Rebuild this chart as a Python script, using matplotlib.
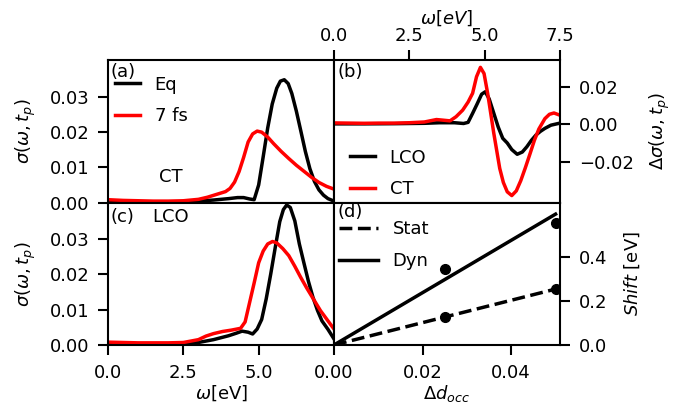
import matplotlib
matplotlib.use("Agg")
import matplotlib.pyplot as plt

plt.rcParams["font.size"] = 13

# panel (a): CT, equilibrium vs 7 fs
a_eq_x = [0, 1, 2, 2.5, 3, 3.5, 4.0, 4.3, 4.5, 4.7, 4.85, 5.0, 5.15, 5.3, 5.45, 5.6, 5.72, 5.85,
          5.98, 6.1, 6.25, 6.4, 6.55, 6.7, 6.85, 7.0, 7.15, 7.3, 7.5]
a_eq_y = [0.0001, 0.0001, 0.0001, 0.0002, 0.0004, 0.0007, 0.0011, 0.0014, 0.0014, 0.0010, 0.0008,
          0.0050, 0.0130, 0.0212, 0.0280, 0.0325, 0.0345, 0.0349, 0.0338, 0.0310, 0.0260, 0.0203,
          0.0145, 0.0096, 0.0060, 0.0036, 0.0021, 0.0011, 0.0004]
a_7fs_x = [0, 0.5, 1, 1.5, 2, 2.5, 3.0, 3.3, 3.6, 3.9, 4.05, 4.2, 4.35, 4.5, 4.65, 4.8, 4.95, 5.1,
           5.3, 5.5, 5.75, 6.0, 6.25, 6.5, 6.75, 7.0, 7.25, 7.5]
a_7fs_y = [0.0008, 0.0006, 0.0005, 0.0004, 0.0004, 0.0005, 0.0009, 0.0015, 0.0023, 0.0031, 0.0040,
           0.0058, 0.0088, 0.0128, 0.0172, 0.0195, 0.0203, 0.0200, 0.0186, 0.0167, 0.0145, 0.0125,
           0.0106, 0.0089, 0.0072, 0.0057, 0.0046, 0.0038]

# panel (b): difference spectra
b_lco_x = [0, 1, 2, 3, 3.5, 4.0, 4.3, 4.45, 4.6, 4.75, 4.9, 5.02, 5.15, 5.3, 5.45, 5.6, 5.75, 5.9,
           6.08, 6.25, 6.4, 6.55, 6.7, 6.85, 7.0, 7.2, 7.5]
b_lco_y = [0.0002, 0.0002, 0.0003, 0.0005, 0.0008, 0.0008, 0.0004, 0.0010, 0.0058, 0.0108, 0.0160,
           0.0173, 0.0135, 0.0060, -0.0015, -0.0075, -0.0100, -0.0135, -0.0160, -0.0148, -0.0120,
           -0.0086, -0.0058, -0.0038, -0.0022, -0.0005, 0.0006]
b_ct_x = [0, 0.5, 1, 1.5, 2, 2.5, 3.0, 3.4, 3.6, 3.85, 4.05, 4.27, 4.45, 4.6, 4.73, 4.86, 4.98,
          5.1, 5.2, 5.3, 5.4, 5.5, 5.62, 5.75, 5.9, 6.05, 6.2, 6.35, 6.5, 6.65, 6.8, 7.0, 7.15,
          7.3, 7.5]
b_ct_y = [0.0007, 0.0006, 0.0005, 0.0006, 0.0006, 0.0008, 0.0012, 0.0025, 0.0022, 0.0018, 0.0040,
          0.0075, 0.0118, 0.0165, 0.0253, 0.0303, 0.0270, 0.0164, 0.0060, -0.0045, -0.0140,
          -0.0235, -0.0310, -0.0360, -0.0380, -0.0355, -0.0300, -0.0232, -0.0160, -0.0086,
          -0.0025, 0.0030, 0.0053, 0.0060, 0.0048]

# panel (c): LCO, equilibrium vs 7 fs
c_eq_x = [0, 1, 2, 2.5, 3.0, 3.5, 4.0, 4.25, 4.45, 4.65, 4.8, 4.95, 5.1, 5.25, 5.4, 5.55, 5.7,
          5.82, 5.93, 6.05, 6.2, 6.35, 6.5, 6.65, 6.8, 6.95, 7.1, 7.3, 7.5]
c_eq_y = [0.0001, 0.0001, 0.0001, 0.0002, 0.0007, 0.0015, 0.0026, 0.0033, 0.0039, 0.0036, 0.0031,
          0.0045, 0.0072, 0.0130, 0.0200, 0.0275, 0.0348, 0.0382, 0.0395, 0.0388, 0.0350, 0.0285,
          0.0232, 0.0180, 0.0135, 0.0098, 0.0068, 0.0044, 0.0017]
c_7fs_x = [0, 0.5, 1, 1.5, 2, 2.5, 3.0, 3.25, 3.5, 3.8, 4.1, 4.4, 4.55, 4.7, 4.85, 5.0, 5.15,
           5.3, 5.46, 5.6, 5.8, 6.0, 6.2, 6.4, 6.6, 6.85, 7.05, 7.3, 7.5]
c_7fs_y = [0.0008, 0.0007, 0.0006, 0.0006, 0.0006, 0.0007, 0.0015, 0.0025, 0.0032, 0.0038, 0.0042,
           0.0047, 0.0065, 0.0120, 0.0175, 0.0232, 0.0265, 0.0285, 0.0292, 0.0288, 0.0272, 0.0252,
           0.0222, 0.0190, 0.0160, 0.0125, 0.0097, 0.0068, 0.0045]

# panel (d): shift vs double occupancy change
d_occ = [0.025, 0.05]
shift_stat = [0.127, 0.255]
shift_dyn = [0.345, 0.555]
fit_occ = [0, 0.05]
fit_stat = [0, 0.255]
fit_dyn = [0, 0.597]

lw = 2.5
fig = plt.figure(figsize=(6.81, 4.03), dpi=100)
gs = fig.add_gridspec(2, 2, left=0.1586, right=0.8223, top=0.851, bottom=0.144,
                      wspace=0, hspace=0)
ax_a = fig.add_subplot(gs[0, 0])
ax_b = fig.add_subplot(gs[0, 1])
ax_c = fig.add_subplot(gs[1, 0])
ax_d = fig.add_subplot(gs[1, 1])

for ax in (ax_a, ax_b, ax_c, ax_d):
    for s in ax.spines.values():
        s.set_linewidth(1.5)
    ax.tick_params(length=7, width=1.5, pad=6.5)

sig_label = r"$\sigma(\omega, t_p)$"
leg_kw = dict(frameon=False, borderaxespad=0, borderpad=0, labelspacing=0.75)

# (a)
ax_a.plot(a_eq_x, a_eq_y, color="black", lw=lw, label="Eq")
ax_a.plot(a_7fs_x, a_7fs_y, color="red", lw=lw, label="7 fs")
ax_a.set_xlim(0, 7.5)
ax_a.set_ylim(0, 0.0405)
ax_a.set_yticks([0, 0.01, 0.02, 0.03])
ax_a.tick_params(axis="x", bottom=False, labelbottom=False)
ax_a.set_ylabel(sig_label, labelpad=8)
ax_a.text(0.012, 0.915, "(a)", transform=ax_a.transAxes, va="center", ha="left")
ax_a.text(0.227, 0.176, "CT", transform=ax_a.transAxes, va="center", ha="left")
ax_a.legend(loc="upper left", bbox_to_anchor=(0.03, 0.89), handlelength=1.4, **leg_kw)

# (b)
ax_b.plot(b_lco_x, b_lco_y, color="black", lw=lw, label="LCO")
ax_b.plot(b_ct_x, b_ct_y, color="red", lw=lw, label="CT")
ax_b.set_xlim(0, 7.5)
ax_b.set_ylim(-0.0417, 0.0342)
ax_b.set_xticks([0, 2.5, 5.0, 7.5])
ax_b.set_yticks([-0.02, 0, 0.02])
ax_b.xaxis.tick_top()
ax_b.xaxis.set_label_position("top")
ax_b.tick_params(axis="x", pad=3.5)
ax_b.yaxis.tick_right()
ax_b.yaxis.set_label_position("right")
ax_b.set_xlabel(r"$\omega[eV]$", labelpad=3)
ax_b.set_ylabel(r"$\Delta\sigma(\omega, t_p)$", labelpad=10)
ax_b.text(0.015, 0.915, "(b)", transform=ax_b.transAxes, va="center", ha="left")
ax_b.legend(loc="lower left", bbox_to_anchor=(0.07, 0.03), handlelength=1.4, **leg_kw)

# (c)
ax_c.plot(c_eq_x, c_eq_y, color="black", lw=lw)
ax_c.plot(c_7fs_x, c_7fs_y, color="red", lw=lw)
ax_c.set_xlim(0, 7.5)
ax_c.set_ylim(0, 0.0402)
ax_c.set_xticks([0, 2.5, 5.0])
ax_c.set_yticks([0, 0.01, 0.02, 0.03])
ax_c.set_ylabel(sig_label, labelpad=8)
ax_c.set_xlabel(r"$\omega$[eV]", labelpad=1)
ax_c.text(0.012, 0.895, "(c)", transform=ax_c.transAxes, va="center", ha="left")
ax_c.text(0.196, 0.895, "LCO", transform=ax_c.transAxes, va="center", ha="left")

# (d)
ax_d.plot(fit_occ, fit_stat, color="black", lw=lw, ls="--", label="Stat")
ax_d.plot(fit_occ, fit_dyn, color="black", lw=lw, label="Dyn")
ax_d.plot(d_occ, shift_stat, "o", color="black", ms=7)
ax_d.plot(d_occ, shift_dyn, "o", color="black", ms=7)
ax_d.set_xlim(0, 0.051)
ax_d.set_ylim(0, 0.65)
ax_d.set_xticks([0, 0.02, 0.04])
ax_d.set_yticks([0, 0.2, 0.4])
ax_d.yaxis.tick_right()
ax_d.yaxis.set_label_position("right")
ax_d.set_xlabel(r"$\Delta d_{occ}$", labelpad=1)
ax_d.set_ylabel(r"$Shift$ [eV]", labelpad=11)
ax_d.text(0.015, 0.93, "(d)", transform=ax_d.transAxes, va="center", ha="left")
ax_d.legend(loc="upper left", bbox_to_anchor=(0.02, 0.875), handlelength=2.2, **leg_kw)

fig.savefig("out.png", dpi=100)
